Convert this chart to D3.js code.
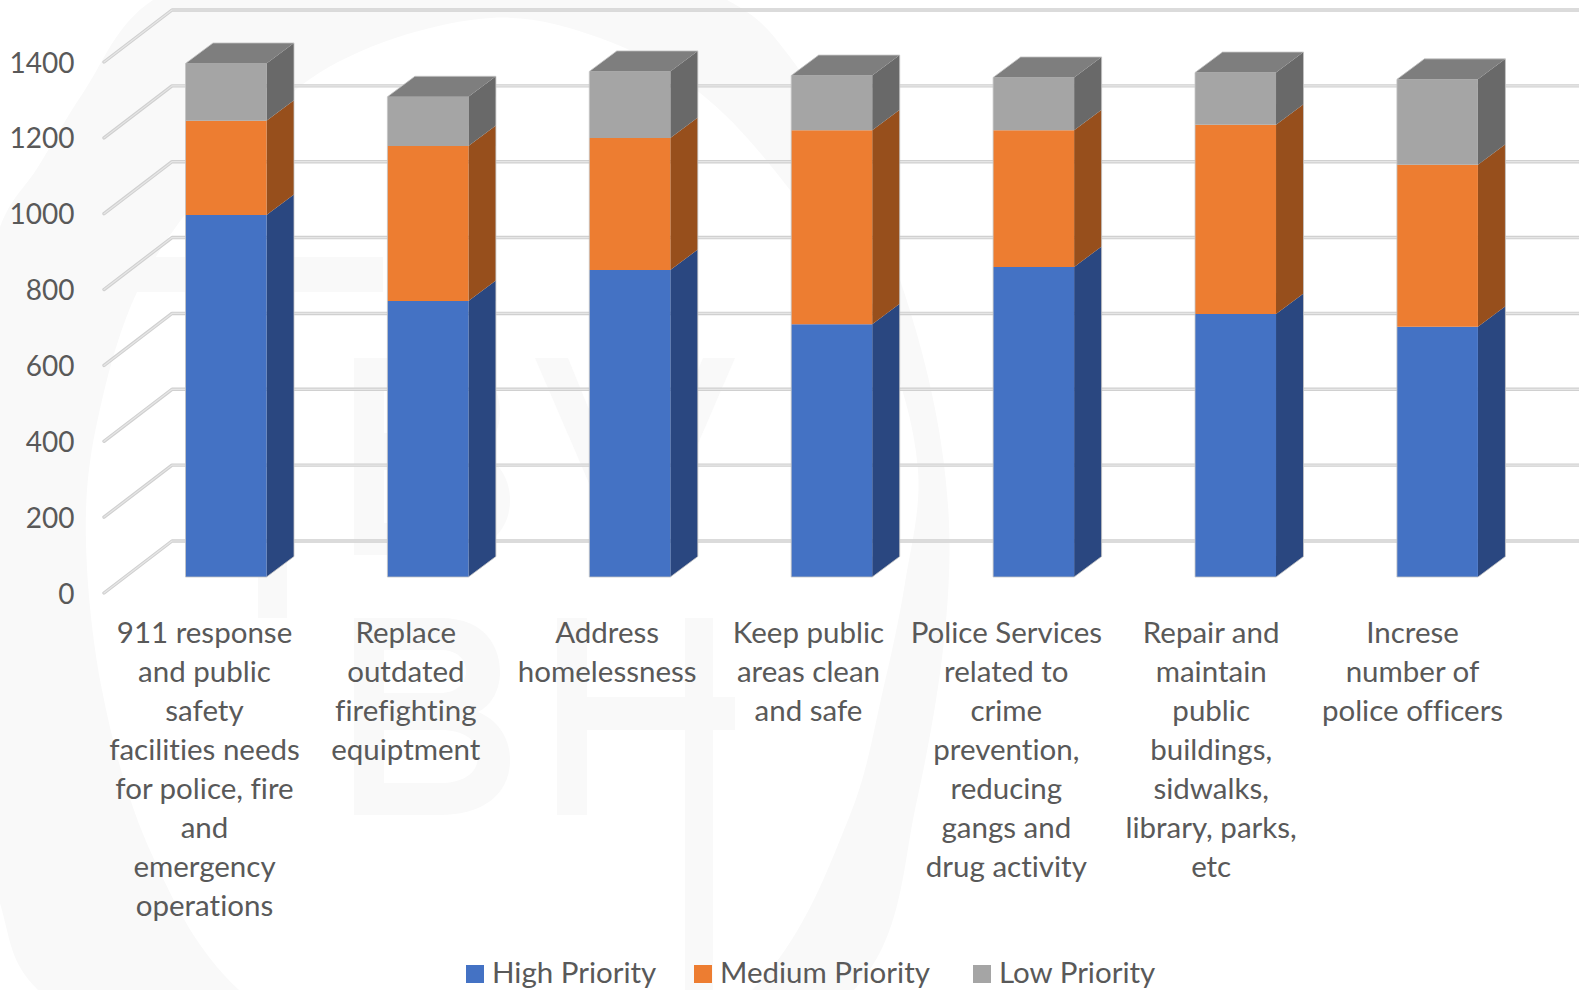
<!DOCTYPE html>
<html>
<head>
<meta charset="utf-8">
<style>
html,body{margin:0;padding:0;background:#fff}
svg{display:block}
text{font-family:"Lato","Open Sans",sans-serif;fill:#595959;font-variant-ligatures:none}
</style>
<script src="https://cdn.jsdelivr.net/npm/d3@7/dist/d3.min.js"></script>
</head>
<body>
<svg id="chart" width="1579" height="990"></svg>
<script>
const categories = [
  ["911 response","and public","safety","facilities needs","for police, fire","and","emergency","operations"],
  ["Replace","outdated","firefighting","equiptment"],
  ["Address","homelessness"],
  ["Keep public","areas clean","and safe"],
  ["Police Services","related to","crime","prevention,","reducing","gangs and","drug activity"],
  ["Repair and","maintain","public","buildings,","sidwalks,","library, parks,","etc"],
  ["Increse","number of","police officers"]
];
const seriesNames = ["High Priority","Medium Priority","Low Priority"];
const highPriority = [955, 728, 810, 667, 818, 694, 660];
const mediumPriority = [249, 409, 348, 512, 361, 499, 428];
const lowPriority = [151, 130, 176, 144, 139, 138, 225];
const yTicks = [0,200,400,600,800,1000,1200,1400];
const faceColors = ["#4472c4","#ed7d31","#a5a5a5"];
const sideColors = ["#2a4780","#974f1c","#696969"];
const topColor = "#7e7e7e";

const svg = d3.select("#chart");

// Faint emblem behind the plot: a ring with lettering inside it
const emblem = svg.append("g").attr("fill","#f9f9f9");
const closedCurve = d3.line().curve(d3.curveCatmullRomClosed.alpha(0.5));
const ringOuter = [[153,0],[83,93],[38,167],[0,227],[-50,560],[0,903],[38,990],[440,1170],[854,990],[917,800],[949,523],[900,280],[790,57],[727,0],[440,-70]];
const ringInner = [[491,18],[319,73],[191,207],[137,292],[102,400],[86,510],[102,690],[153,857],[239,990],[490,1130],[752,990],[850,815],[883,690],[905,583],[918,470],[880,330],[790,190],[700,93],[600,38]];
emblem.append("path").attr("fill-rule","evenodd").attr("d",closedCurve(ringOuter)+closedCurve(ringInner));
const letterB = "M354,618H440C488,618 500,650 500,672C500,692 490,706 478,712C498,720 510,738 510,760C510,795 482,815 440,815H354Z"
  + "M384,650V693H440C456,693 466,684 466,671C466,658 456,650 440,650Z"
  + "M384,730V783H440C464,783 478,773 478,756C478,740 464,730 440,730Z";
emblem.append("path").attr("fill-rule","evenodd").attr("d",letterB);
emblem.append("path").attr("fill-rule","evenodd").attr("d",letterB).attr("transform","translate(0,-260)");
emblem.append("path").attr("d","M120,257H383V292H287V618H258V292H120Z");
emblem.append("path").attr("d","M535,358H568L634,520L703,358H735L650,555H620Z");
emblem.append("path").attr("d","M557,618H587V697H685V618H713V697H735V730H713V1000H685V730H587V815H557Z");

// Plot geometry: the front plane of the axis and the receding floor
const yFront = d3.scaleLinear().domain([0,1400]).range([593,62]);
const depth = {x:69, y:-52};
const x = d3.scaleBand().domain(d3.range(categories.length)).range([124.93,1538.5]).paddingInner(0.5988).paddingOuter(0.3);
const labelX = d3.scalePoint().domain(d3.range(categories.length)).range([204.5,1412.5]);
const barDepth = {x:27.5, y:-20.5};
const barBase = 577;
const yBar = d3.scaleLinear().domain([0,1400]).range([barBase, barBase-530.6]);

// Gridlines: a diagonal on the side wall, then across the back wall
const grid = svg.append("g").attr("fill","none").attr("stroke-linejoin","round").attr("stroke-linecap","round");
yTicks.forEach(t=>{
  const y0 = yFront(t);
  const pts = [[104,y0],[103+depth.x,y0+depth.y],[1585,y0+depth.y]];
  grid.append("polyline").attr("points",pts.join(" ")).attr("stroke","#d0d0d0").attr("stroke-width",3.4);
  grid.append("polyline").attr("points",pts.join(" ")).attr("stroke","#e6e6e6").attr("stroke-width",1.2);
});

// Y axis tick labels
svg.append("g").selectAll("text").data(yTicks).join("text")
  .attr("x",74.5).attr("y",d=>yFront(d)+10.5).attr("text-anchor","end")
  .attr("font-size",28).text(d=>d);

// Stacked 3D bars
const stack = d3.stack().keys([0,1,2]).value((d,k)=>d[k])(
  highPriority.map((h,i)=>[h,mediumPriority[i],lowPriority[i]]));
const bars = svg.append("g");
const poly = (sel,pts,fill)=>sel.append("polygon").attr("points",pts.join(" ")).attr("fill",fill);
stack.forEach((layer,k)=>{
  layer.forEach((seg,i)=>{
    const g = bars.append("g");
    const l = x(i), r = l+x.bandwidth();
    const y0 = yBar(seg[0]), y1 = yBar(seg[1]);
    poly(g,[[r,y0],[r+barDepth.x,y0+barDepth.y],[r+barDepth.x,y1+barDepth.y],[r,y1]],sideColors[k]);
    poly(g,[[l,y0],[r,y0],[r,y1],[l,y1]],faceColors[k]);
    if(k===2) poly(g,[[l,y1],[l+barDepth.x,y1+barDepth.y],[r+barDepth.x,y1+barDepth.y],[r,y1]],topColor);
  });
});

// Soft pale edge around each whole column
stack[2].forEach((seg,i)=>{
  const l = x(i), r = l+x.bandwidth(), y0 = yBar(0), y1 = yBar(seg[1]);
  bars.append("polygon")
    .attr("points",[[l,y0],[l,y1],[l+barDepth.x,y1+barDepth.y],[r+barDepth.x,y1+barDepth.y],[r+barDepth.x,y0+barDepth.y],[r,y0]].join(" "))
    .attr("fill","none").attr("stroke","#c4c4c4").attr("stroke-width",1).attr("stroke-opacity",0.8);
});

// Category labels, wrapped line by line
const labels = svg.append("g").attr("text-anchor","middle").attr("font-size",29.5);
categories.forEach((lines,i)=>{
  const cx = labelX(i) - (i===4 ? 3.5 : 0);
  lines.forEach((ln,j)=>{
    labels.append("text").attr("x",cx).attr("y",643+j*39).text(ln);
  });
});

// Legend
const legendX = [466,694,973];
const legend = svg.append("g");
seriesNames.forEach((n,i)=>{
  legend.append("rect").attr("x",legendX[i]).attr("y",965).attr("width",18).attr("height",18).attr("fill",faceColors[i]);
  legend.append("text").attr("x",legendX[i]+26).attr("y",983).attr("font-size",29.5).text(n);
});
</script>
</body>
</html>
